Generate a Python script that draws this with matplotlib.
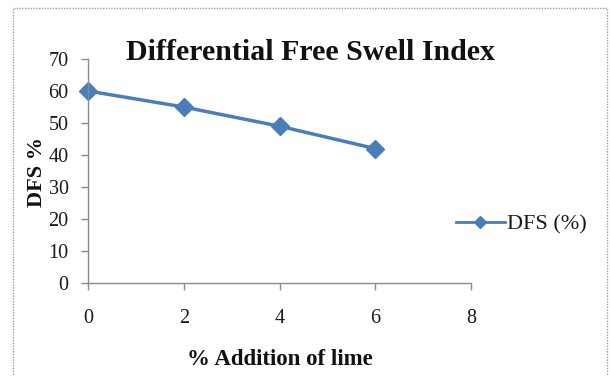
import matplotlib
matplotlib.use("Agg")
import matplotlib.pyplot as plt
from matplotlib.patches import Rectangle
from matplotlib.lines import Line2D

# Differential free swell of soil with increasing lime content
lime_pct = [0, 2, 4, 6]
dfs_pct = [60, 55, 49, 42]
x_ticks = [0, 2, 4, 6, 8]
y_ticks = [0, 10, 20, 30, 40, 50, 60, 70]

plt.rcParams['font.family'] = ['Liberation Serif', 'DejaVu Serif']

W, H = 610, 376
fig = plt.figure(figsize=(W / 100, H / 100), dpi=100)

# chart-area frame
fig.patches.append(Rectangle((13 / W, -0.05), (607 - 13) / W, 1.05 - 8 / H,
                             transform=fig.transFigure, fill=False,
                             edgecolor='#a0a0a0', linewidth=1.0, linestyle=(0, (1, 1))))

ax = fig.add_axes([88 / W, 1 - 283 / H, (471 - 88) / W, (283 - 59) / H])
blue = '#4a7ebb'
ax.plot(lime_pct, dfs_pct, color=blue, linewidth=2.5, marker='D', markersize=9,
        markerfacecolor=blue, markeredgecolor=blue, clip_on=False)

ax.set_xlim(0, 8)
ax.set_ylim(0, 70)
ax.set_xticks(x_ticks)
ax.set_yticks(y_ticks)
for s in ['top', 'right']:
    ax.spines[s].set_visible(False)
for s in ['left', 'bottom']:
    ax.spines[s].set_color('#8c8c8c')
    ax.spines[s].set_linewidth(1.0)
ax.tick_params(axis='both', direction='out', length=5, width=1.0, color='#8c8c8c',
               labelsize=14.5, labelcolor='#1a1a1a')
ax.tick_params(axis='x', pad=14)
ax.tick_params(axis='y', pad=9)

fig.text(310 / W, 1 - 60 / H, 'Differential Free Swell Index', ha='center', va='baseline',
         fontsize=21.5, fontweight='bold', color='#111111')
fig.text(42 / W, 1 - 172 / H, 'DFS %', ha='center', va='baseline', rotation=90,
         rotation_mode='anchor', fontsize=16, fontweight='bold', color='#111111')
fig.text(280 / W, 1 - 365 / H, '% Addition of lime', ha='center', va='baseline',
         fontsize=16.5, fontweight='bold', color='#111111')

handle = Line2D([], [], color=blue, linewidth=2.0, marker='D', markersize=6)
fig.legend([handle], ['DFS (%)'], loc='center left', bbox_to_anchor=(456 / W, 1 - 224 / H),
           frameon=False, fontsize=16, handlelength=2.2, handletextpad=0.1,
           borderaxespad=0, borderpad=0, labelcolor='#1a1a1a')

fig.savefig('out.png', dpi=100)
